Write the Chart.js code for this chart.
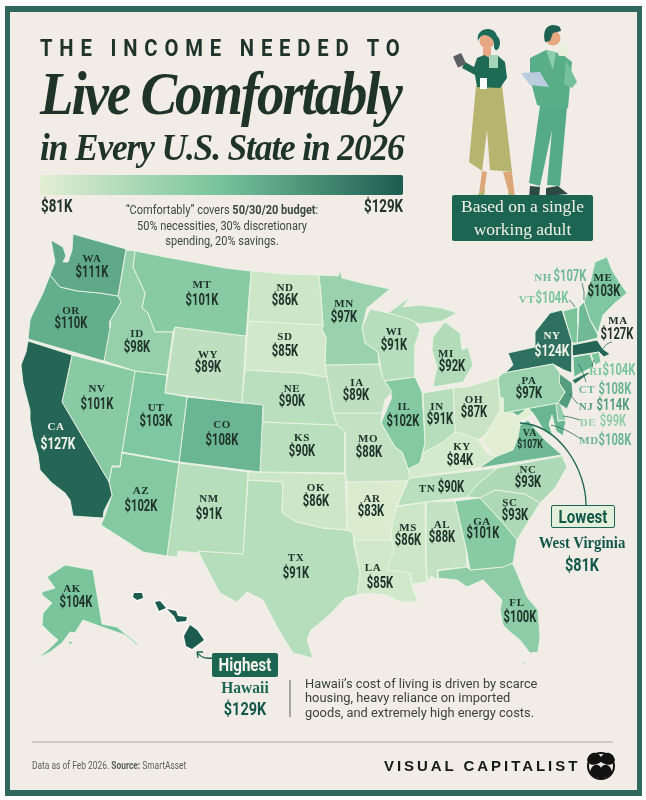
<!DOCTYPE html>
<html>
<head>
<meta charset="utf-8">
<script src="https://cdn.jsdelivr.net/npm/chart.js@4"></script>
<style>
  html, body { margin: 0; background: #fff; }
  #page { position: relative; width: 646px; height: 800px; overflow: hidden; }
  #frame { position: absolute; left: 5px; top: 6px; width: 627px; height: 778px; background: #f1ede6; border: 5px solid #2f675d; border-top-width: 6px; border-bottom-width: 6px; }
  canvas { position: absolute; left: 0; top: 0; }
  #overlay { position: absolute; left: 0; top: 0; pointer-events: none; }
  .t { position: absolute; white-space: nowrap; color: #20332b; }
  .nar { font-family: Roboto, sans-serif; font-weight: 700; }
  .left { transform-origin: left center; }
  .mid { text-align: center; }
</style>
</head>
<body>
<div id="page">
  <div id="frame"></div>
  <canvas id="map" width="646" height="800"></canvas>
  <svg id="overlay" width="646" height="800" viewBox="0 0 646 800">
    <!-- woman -->
    <path d="M482 171 L479 194 L476 199 L483 199 L487 172 Z M503 172 L508 190 L510 200 L515 198 L512 172 Z" fill="#dda679"/>
    <path d="M475 197 L485 189 L484 199 L477 200 Z M509 190 L514 198 L511 202 L508 200 Z" fill="#b7b473"/>
    <path d="M476 86 L502 85 L512 172 L490 170 L487 130 L482 171 L469 162 Z" fill="#b6b46e"/>
    <path d="M483 48 L491 48 L491 58 L483 58 Z" fill="#e6a883"/>
    <path d="M477 58 L484 55 L490 58 L497 55 L505 62 L507 78 L500 88 L477 87 L475 75 L462 68 L465 62 L474 67 Z" fill="#1f6a55"/>
    <circle cx="487" cy="41" r="7.5" fill="#e6a883"/>
    <path d="M478 41 C475 27 495 25 497 36 C501 39 501 47 497 50 C495 51 494 48 494 46 C495 40 490 35 484 35 C480 36 479 39 478 41 Z" fill="#1d6a5a"/>
    <rect x="455" y="54" width="9" height="12" rx="1" transform="rotate(-25 460 60)" fill="#5c5f62"/>
    <rect x="489" y="55" width="9" height="13" fill="#a7d5b8"/>
    <rect x="480" y="78" width="7" height="11" fill="#fff"/>
    <!-- man -->
    <path d="M540 106 L567 107 L560 186 L547 185 L552 130 L540 186 L529 183 Z" fill="#54ab85"/>
    <path d="M530 186 L540 187 L539 198 L529 198 Z M546 188 L558 186 L568 194 L546 196 Z" fill="#2b4a43"/>
    <path d="M530 58 L546 50 L562 54 L572 62 L568 108 L553 110 L537 105 L530 78 Z" fill="#58ae87"/>
    <path d="M566 60 L577 82 L572 88 L564 84 Z" fill="#75c19a"/>
    <path d="M546 50 L556 52 L553 70 Z" fill="#8dcfa8"/>
    <circle cx="553" cy="38" r="7.5" fill="#e6a883"/>
    <path d="M545 42 C541 26 552 22 560 27 L561 31 L553 33 L550 41 Z" fill="#1d5f50"/>
    <rect x="558" y="43" width="10" height="13" rx="2" fill="#e8efdc"/>
    <path d="M521 73 L540 72 L549 87 L530 85 Z" fill="#b9cddf"/>
    <!-- annotation leaders -->
    <g fill="none" stroke="#2d6e5f" stroke-width="0.8">
      <path d="M582 283 Q585 292 584 300"/>
      <path d="M569 300 Q572 302 575 307"/>
      <path d="M612 342 Q606 343 603 349"/>
      <path d="M592 368 Q592 362 594 360"/>
      <path d="M586 382 Q582 368 578 364"/>
      <path d="M578 404 Q572 397 569 394"/>
      <path d="M580 420 Q572 417 563 416"/>
      <path d="M581 439 Q565 428 551 425"/>
    </g>
    <path d="M586 505 C586 470 560 425 520 423" fill="none" stroke="#1c6553" stroke-width="1.3"/>
    <path d="M212 658 C205 659 200 657 197 652 M197 652 L203 652 M197 652 L198 658" fill="none" stroke="#1c6553" stroke-width="1.3"/>
    <line x1="290" y1="680" x2="290" y2="717" stroke="#55605a" stroke-width="1"/>
    <line x1="32" y1="742" x2="613" y2="742" stroke="#a9a8a1" stroke-width="1"/>
    <!-- logo -->
    <circle cx="601" cy="766" r="13" fill="none" stroke="#111" stroke-width="2"/>
    <path d="M587 760 C590 750 598 752 601 757 C604 752 612 750 615 760 C612 768 604 764 601 762 C598 764 590 768 587 760 Z M590 772 C592 762 600 764 601 768 C602 764 610 762 612 772 C608 780 594 780 590 772 Z" fill="#111"/>
  </svg>
  <div class="t nar left" style="left:40px;top:35px;font-size:23px;letter-spacing:7.75px;transform:scaleX(.88);">THE INCOME NEEDED TO</div>
  <div class="t left" style="left:40px;top:58px;font:italic bold 62px 'Liberation Serif';letter-spacing:-2.4px;transform:scaleX(.885);">Live Comfortably</div>
  <div class="t left" style="left:40px;top:125px;font:italic bold 38px 'Liberation Serif';letter-spacing:-1.2px;transform:scaleX(.93);">in Every U.S. State in 2026</div>
  <div style="position:absolute;left:40px;top:175px;width:363px;height:20px;border-radius:2px;background:linear-gradient(90deg,#e3efd3,#76c39b 50%,#1c5c50);"></div>
  <div class="t nar left" style="left:41px;top:195px;font-size:18px;transform:scaleX(.74);">$81K</div>
  <div class="t nar left" style="left:364px;top:195px;font-size:18px;transform:scaleX(.74);">$129K</div>
  <div class="t mid" style="left:100px;width:244px;top:202px;font:12.5px/15.5px Roboto;color:#3a4a42;transform:scaleX(.88);">“Comfortably” covers <b>50/30/20 budget</b>:<br>50% necessities, 30% discretionary<br>spending, 20% savings.</div>
  <div style="position:absolute;left:452px;top:195px;width:141px;height:46px;border-radius:2px;background:#1c6553;"></div>
  <div class="t mid" style="left:452px;width:141px;top:195px;color:#f2f1e6;font:17.5px/23px 'Liberation Serif';">Based on a single<br>working adult</div>
  <div style="position:absolute;left:551px;top:505px;width:62px;height:21px;border:1.2px solid #1c6553;border-radius:2px;background:#e4f0dc;"></div>
  <div class="t nar mid" style="left:551px;width:64px;top:505px;font-size:18px;line-height:23px;color:#11584a;transform:scaleX(.84);">Lowest</div>
  <div class="t mid" style="left:532px;width:100px;top:533px;font:bold 17px 'Liberation Serif';color:#11584a;transform:scaleX(.87);">West Virginia</div>
  <div class="t nar mid" style="left:532px;width:100px;top:553px;font-size:19px;color:#11584a;transform:scaleX(.76);">$81K</div>
  <div style="position:absolute;left:212px;top:653px;width:66px;height:24px;border-radius:2px;background:#1c6553;"></div>
  <div class="t nar mid" style="left:212px;width:66px;top:653px;font-size:18px;line-height:24px;color:#f5f5ea;transform:scaleX(.84);">Highest</div>
  <div class="t mid" style="left:205px;width:80px;top:678px;font:bold 16.5px 'Liberation Serif';color:#1c6553;transform:scaleX(.94);">Hawaii</div>
  <div class="t nar mid" style="left:205px;width:80px;top:697px;font-size:19px;color:#11584a;transform:scaleX(.76);">$129K</div>
  <div class="t left" style="left:305px;top:677px;font:13.4px/14.3px Roboto;color:#3a403c;transform:scaleX(.96);">Hawaii’s cost of living is driven by scarce<br>housing, heavy reliance on imported<br>goods, and extremely high energy costs.</div>
  <div class="t left" style="left:32px;top:759px;font:10.5px Roboto;color:#5a5f5a;transform:scaleX(.8);">Data as of Feb 2026. <b>Source:</b> SmartAsset</div>
  <div class="t" style="left:384px;top:757px;font:bold 15px 'Liberation Sans';letter-spacing:2.95px;color:#15191a;">VISUAL CAPITALIST</div>
</div>

<script>
// State incomes, in $K
const stateCodes = ["WA","OR","CA","NV","ID","MT","WY","UT","AZ","CO","NM","ND","SD","NE","KS","OK","TX","MN","IA","MO","AR","LA","WI","IL","MI","IN","OH","KY","TN","MS","AL","GA","FL","SC","NC","VA","WV","PA","NY","NJ","DE","MD","CT","RI","MA","VT","NH","ME","AK","HI"];
const incomes = [111,110,127,101,98,101,89,103,102,108,91,86,85,90,90,86,91,97,89,88,83,85,91,102,92,91,87,84,90,86,88,101,100,93,93,107,81,97,124,114,99,108,108,104,127,104,107,103,104,129];

// Legend colour stops (low, middle, high)
const rampIncome = [81, 105, 129];
const rampRed = [227, 118, 28];
const rampGreen = [239, 195, 92];
const rampBlue = [211, 155, 80];

// State outlines, x,y pairs
const WA = [73,234,126,249,118,296,100,293,78,291,60,287,50,275,55,262,51,240,63,247,66,256,63,262,68,262,72,250];
const OR = [50,275,60,287,78,291,100,293,118,296,121,302,110,321,110,328,104,361,28,339,30,320,33,313,43,293];
const CA = [28,341,72,355,62,402,109,482,112,495,104,511,103,518,73,516,70,500,65,493,52,483,40,470,38,455,33,437,30,420,30,410,23,383,21,365,26,352];
const NV = [72,355,135,371,122,452,120,466,112,466,109,482,62,402];
const ID = [126,250,135,251,133,267,145,293,142,308,148,313,155,332,173,332,167,375,135,371,104,361,110,321,121,302,118,296];
const MT = [135,251,165,257,193,262,225,268,251,271,246,336,175,327,173,332,155,332,148,313,142,308,145,293,133,267];
const WY = [175,327,246,336,242,403,165,393];
const UT = [135,371,167,375,165,393,187,397,179,462,122,452];
const AZ = [122,453,179,463,167,556,143,552,101,525,104,518,112,495,109,482,112,467,120,467];
const CO = [187,397,263,405,260,472,179,462];
const NM = [179,463,248,472,243,554,198,551,199,553,178,551,177,557,167,556];
const ND = [251,271,285,274,319,275,321,297,323,325,248,321];
const SD = [248,321,323,325,322,331,326,337,325,365,327,377,312,375,303,373,245,370];
const NE = [245,370,303,373,312,375,327,377,330,395,333,413,337,425,263,422,263,405,242,403];
const KS = [262,422,337,425,345,432,345,473,260,472];
const OK = [248,472,345,474,347,530,323,528,297,522,282,513,283,482,248,480];
const TX = [248,480,283,482,282,513,297,522,323,528,347,530,353,533,354,545,360,573,357,595,345,598,337,607,327,617,311,630,307,640,313,658,293,653,277,627,263,600,247,592,237,602,220,593,213,580,198,551,243,554];
const MN = [319,275,338,276,340,270,342,278,362,283,390,289,367,308,362,328,365,343,378,352,379,364,325,365,326,337,322,330,323,325,321,297];
const IA = [325,365,379,364,383,378,392,392,385,400,382,413,333,413,330,395,327,377];
const MO = [333,413,382,413,381,423,395,447,402,452,408,469,410,478,407,481,399,481,347,482,345,473,345,432,337,425];
const AR = [347,482,399,481,407,481,397,505,392,525,391,540,354,540,353,533,347,530];
const LA = [354,540,392,540,394,550,387,570,410,573,412,587,418,602,400,602,387,595,370,593,357,595,360,573];
const WI = [370,309,388,313,406,318,415,322,420,330,415,345,415,377,383,381,378,352,365,343,362,328];
const IL = [385,381,415,377,422,392,425,443,420,463,408,469,402,452,395,447,381,423,392,397];
const MI_UPPER = [388,313,410,297,403,307,420,305,442,308,457,313,442,321,420,324,415,322];
const MI_LOWER = [433,337,445,322,460,333,462,350,468,347,473,365,463,382,433,387,437,367,432,350];
const IN = [423,393,453,388,455,432,443,442,423,453,425,443];
const OH = [453,388,467,387,498,378,500,410,493,422,485,435,478,440,468,435,455,432];
const KY = [423,453,443,442,455,432,468,435,478,440,482,445,487,453,495,457,478,468,410,478,408,469,420,463];
const TN = [408,481,410,478,497,468,478,484,467,497,425,502,397,506];
const MS = [397,507,425,502,426,567,427,582,412,584,410,573,387,570,392,540,391,525];
const AL = [425,502,455,501,467,553,467,567,437,570,438,580,431,576,428,582,426,567];
const GA = [455,501,480,498,502,522,517,540,513,563,503,567,470,570,467,553];
const FL = [436,571,467,567,470,570,503,567,505,563,513,564,527,597,538,610,540,637,538,652,530,653,520,640,510,632,503,625,500,610,502,600,483,580,467,587,457,580,437,578];
const FL_KEYS = [520,665,527,661,525,664];
const SC = [480,498,495,490,525,494,540,503,520,535,517,540,502,522];
const NC = [497,468,562,456,567,467,555,488,540,503,525,494,495,490,480,498,467,497,478,484];
const VA = [479,468,495,457,513,450,518,437,520,425,528,420,536,430,545,440,562,455];
const WV = [500,397,503,398,503,413,513,413,518,416,528,408,534,414,518,422,522,427,513,450,497,458,483,442,490,423,498,413];
const PA = [498,378,503,373,553,364,560,373,559,383,565,392,558,403,503,413,500,397];
const NY = [505,373,513,365,508,353,535,347,535,332,550,313,562,310,572,342,572,373,564,370,553,364];
const NY_ISLAND = [572,380,588,372,590,373,575,384];
const NJ = [559,373,572,383,573,395,567,409,558,403,565,392,559,383];
const DE = [556,404,560,403,566,420,558,421];
const MD = [503,413,557,403,558,421,566,420,563,436,556,431,552,415,549,424,553,437,545,432,535,416,528,408,518,416,513,413];
const CT = [573,357,590,354,594,366,574,377];
const RI = [591,354,599,352,601,362,595,365];
const MA = [572,345,597,340,603,349,610,354,604,357,599,352,572,356];
const VT = [563,311,578,307,578,325,577,343,572,343];
const NH = [579,307,584,302,590,320,598,335,598,338,577,343,578,325];
const ME = [595,262,607,257,612,270,620,283,627,293,615,303,603,315,598,333,590,320,584,302,590,283];
const AK = [47,577,65,565,93,570,102,624,117,627,138,644,137,645,125,635,102,627,83,620,78,628,75,633,70,632,62,643,50,652,40,657,38,658,50,648,58,640,50,633,42,625,43,613,52,603,42,595,42,592,55,588];
const AK_ISLE = [68,641,73,642,70,645];
const HI_BIG = [190,625,197,630,204,640,192,649,186,646,184,636];
const HI_MAUI = [167,609,176,611,178,616,187,617,186,621,177,622,174,616];
const HI_OAHU = [155,602,160,601,166,608,159,611];
const HI_KAUAI = [134,593,142,593,143,598,137,600,133,597];

const shapes = [["WA",WA],["OR",OR],["CA",CA],["NV",NV],["ID",ID],["MT",MT],["WY",WY],["UT",UT],["AZ",AZ],["CO",CO],["NM",NM],["ND",ND],["SD",SD],["NE",NE],["KS",KS],["OK",OK],["TX",TX],["MN",MN],["IA",IA],["MO",MO],["AR",AR],["LA",LA],["WI",WI],["IL",IL],["MI",MI_UPPER],["MI",MI_LOWER],["IN",IN],["OH",OH],["KY",KY],["TN",TN],["MS",MS],["AL",AL],["GA",GA],["FL",FL],["FL",FL_KEYS],["SC",SC],["NC",NC],["VA",VA],["WV",WV],["PA",PA],["NY",NY],["NY",NY_ISLAND],["NJ",NJ],["DE",DE],["MD",MD],["CT",CT],["RI",RI],["MA",MA],["VT",VT],["NH",NH],["ME",ME],["AK",AK],["AK",AK_ISLE],["HI",HI_BIG],["HI",HI_MAUI],["HI",HI_OAHU],["HI",HI_KAUAI]];

// Label anchors on the map: code, abbreviation x,y, value x,y
const labelCodes = ["WA","OR","CA","NV","ID","MT","WY","UT","AZ","CO","NM","ND","SD","NE","KS","OK","TX","MN","IA","MO","AR","LA","WI","IL","MI","IN","OH","KY","TN","MS","AL","GA","FL","SC","NC","VA","PA","NY","MA","ME","AK","NH","VT","RI","CT","NJ","DE","MD"];
const abbrX = [92,71,56,97,137,202,208,156,141,222,209,285,285,292,302,316,296,344,357,368,372,373,394,404,446,437,474,462,427,408,442,482,517,510,528,530,529,552,618,603,72,543,527,596,587,586,588,589];
const abbrY = [259,311,427,389,334,285,355,408,491,425,499,288,337,389,438,488,558,304,383,439,499,568,332,407,354,407,400,447,489,528,525,522,603,503,470,433,381,336,321,278,589,278,300,372,390,407,423,441];
const valueX = [92,71,58,97,137,202,208,156,141,222,209,285,285,292,302,316,296,344,356,369,371,380,394,403,452,440,474,460,451,408,442,483,520,515,528,530,529,552,617,604,76,570,552,619,615,613,613,615];
const valueY = [273,324,445,405,348,301,368,422,507,441,515,301,352,402,452,502,574,318,396,453,512,584,346,422,367,420,413,461,488,541,538,534,618,516,483,445,394,352,335,292,603,277,299,371,390,406,422,441];
const whiteLabels = ["CA","NY"];
const outsideLabels = ["NH","VT","RI","CT","NJ","DE","MD"];

function incomeOf(code) {
  return incomes[stateCodes.indexOf(code)];
}

function colorFor(value) {
  const seg = value <= rampIncome[1] ? 0 : 1;
  const t = (value - rampIncome[seg]) / (rampIncome[seg + 1] - rampIncome[seg]);
  const mix = (c) => Math.round(c[seg] + (c[seg + 1] - c[seg]) * t);
  return `rgb(${mix(rampRed)},${mix(rampGreen)},${mix(rampBlue)})`;
}

function toPoints(flat) {
  const points = [];
  for (let i = 0; i < flat.length; i += 2) points.push({ x: flat[i], y: flat[i + 1] });
  points.push({ x: flat[0], y: flat[1] });
  return points;
}

function fillOutline(chart, args) {
  const { ctx } = chart;
  ctx.save();
  ctx.beginPath();
  args.meta.data.forEach((p, i) => (i ? ctx.lineTo(p.x, p.y) : ctx.moveTo(p.x, p.y)));
  ctx.closePath();
  ctx.fillStyle = chart.data.datasets[args.index].backgroundColor;
  ctx.fill();
  ctx.restore();
}

// Closed polygons: fills each outline from the points the scales placed.
// Hawaii is filled again on top so its pale border reads as a halo.
const shapeFill = {
  id: "shapeFill",
  beforeDatasetDraw(chart, args) {
    fillOutline(chart, args);
  },
  afterDatasetDraw(chart, args) {
    if (chart.data.datasets[args.index].label === "HI") fillOutline(chart, args);
  },
};

function narrowText(ctx, text, x, y, squeeze) {
  ctx.save();
  ctx.translate(x, y);
  ctx.scale(squeeze, 1);
  ctx.fillText(text, 0, 0);
  ctx.restore();
}

const stateLabels = {
  id: "stateLabels",
  afterDatasetsDraw(chart) {
    const { ctx, scales } = chart;
    ctx.save();
    ctx.textAlign = "center";
    ctx.textBaseline = "middle";
    labelCodes.forEach((code, i) => {
      const income = incomeOf(code);
      const outside = outsideLabels.includes(code);
      const small = code === "VA";
      ctx.fillStyle = whiteLabels.includes(code) ? "#f3f5ea" : outside ? colorFor(income) : "#20332b";
      ctx.font = `bold ${small ? 10 : 11}px "Liberation Serif"`;
      ctx.letterSpacing = "0.6px";
      ctx.fillText(code, scales.x.getPixelForValue(abbrX[i]), scales.y.getPixelForValue(abbrY[i]));
      ctx.font = `bold ${small ? 12.5 : whiteLabels.includes(code) ? 17 : 16}px Roboto`;
      ctx.letterSpacing = "0px";
      narrowText(ctx, `$${income}K`, scales.x.getPixelForValue(valueX[i]), scales.y.getPixelForValue(valueY[i]), 0.7);
    });
    ctx.restore();
  },
};

new Chart(document.getElementById("map"), {
  type: "scatter",
  data: {
    datasets: shapes.map(([code, outline]) => {
      const tone = colorFor(incomeOf(code));
      return {
        label: code,
        data: toPoints(outline),
        showLine: true,
        fill: false,
        tension: 0,
        backgroundColor: tone,
        borderColor: code === "HI" ? "#fbfaf6" : "#eaf3e4",
        borderWidth: code === "HI" ? 3 : 0.9,
        pointRadius: 0,
      };
    }),
  },
  options: {
    responsive: false,
    animation: false,
    layout: { padding: 0 },
    plugins: { legend: { display: false }, tooltip: { enabled: false } },
    scales: {
      x: { type: "linear", min: 0, max: 646, display: false },
      y: { type: "linear", min: 0, max: 800, reverse: true, display: false },
    },
  },
  plugins: [shapeFill, stateLabels],
});
</script>
</body>
</html>
